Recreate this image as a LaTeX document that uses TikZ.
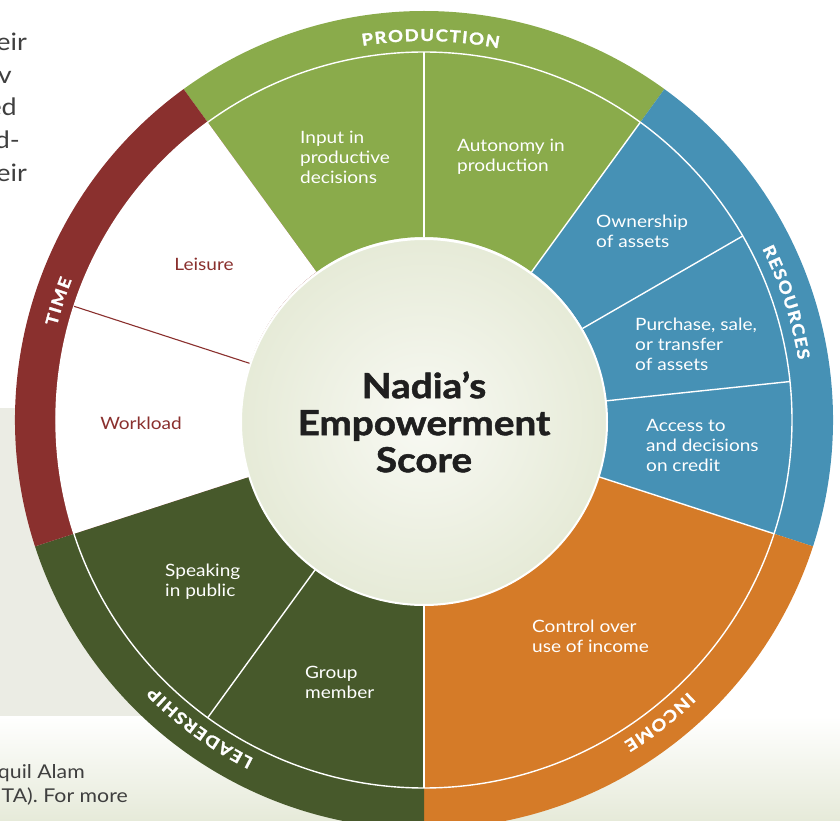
\documentclass[tikz,border=0pt]{standalone}
\usepackage{fontspec}
\setmainfont{Lato}[FakeStretch=1.12]
\newfontfamily\heavyfamily{Lato}[FakeStretch=1.12, FakeBold=1.5]
\usetikzlibrary{decorations.text}

\definecolor{prodgreen}{HTML}{8AAB4B}
\definecolor{resblue}{HTML}{4691B5}
\definecolor{incorange}{HTML}{D57B28}
\definecolor{leadgreen}{HTML}{47592B}
\definecolor{timered}{HTML}{8A302E}
\definecolor{hubin}{HTML}{F8F9F3}
\definecolor{hubout}{HTML}{D4DCBC}
\definecolor{pagegrey}{HTML}{EBECE4}
\definecolor{pagegreen}{HTML}{E6EAD9}
\definecolor{bodytext}{HTML}{3F3F3F}

\pgfdeclareradialshading{hubglow}{\pgfpoint{0bp}{0bp}}{color(0bp)=(hubin); color(50bp)=(hubout)}

\newcommand\lsp{\kern1.4pt}
\newcommand\catfont{\fontsize{16.5}{16.5}\heavyfamily\bfseries}

\begin{document}
\begin{tikzpicture}[
  x=1pt, y=1pt,
  divider/.style={draw=white, line width=1.4pt},
  timeline/.style={draw=timered, line width=1.1pt},
  seclabel/.style={anchor=west, align=left, inner sep=0pt, text=white,
                   font=\fontsize{17}{20}\selectfont},
  timelabel/.style={seclabel, anchor=center, text=timered},
  hub/.style={circle, minimum size=366pt, inner sep=0pt, shading=hubglow,
              draw=white, line width=2pt, align=center, text=black!88,
              font=\fontsize{34.5}{37}\heavyfamily\bfseries},
  catlabel/.style={decorate, decoration={text along path, text color=white,
                   text align=center, text={|\catfont|#1}}},
  para/.style={anchor=base east, inner sep=0pt, text=bodytext}
]
  \def\rHub{183} \def\rMid{368} \def\rOut{409} \def\rTxt{379}
  \useasboundingbox (-424,-401) rectangle (416,420);

  % --- page behind the wheel ---
  \fill[pagegrey] (-424,12) rectangle (-74,-298);
  \shade[top color=white, bottom color=pagegreen] (-424,-296) rectangle (416,-401);
  \node[para, font=\fontsize{24}{33}\selectfont] (p1) at (-397,369) {eir};
  \node[para, font=\fontsize{24}{33}\selectfont] (p2) at (-412,336) {v};
  \node[para, font=\fontsize{24}{33}\selectfont] (p3) at (-407,304) {ed};
  \node[para, font=\fontsize{24}{33}\selectfont] (p4) at (-404,271) {d-};
  \node[para, font=\fontsize{24}{33}\selectfont] (p5) at (-397,238) {eir};
  \node[para, font=\fontsize{19}{24}\selectfont] (q1) at (-339,-358) {quil Alam};
  \node[para, font=\fontsize{19}{24}\selectfont] (q2) at (-296,-382) {TA). For more};

  % --- five domains, 72 degrees each ---
  \foreach \a/\b/\col in {54/126/prodgreen, -18/54/resblue, -90/-18/incorange,
                          198/270/leadgreen, 126/198/timered}{
    \fill[\col] (\a:\rHub) -- (\a:\rOut)
      arc[start angle=\a, end angle=\b, radius=\rOut] -- (\b:\rHub)
      arc[start angle=\b, end angle=\a, radius=\rHub] -- cycle;
  }
  % time indicators sit on white
  \fill[white] (126:\rHub) -- (126:\rMid)
    arc[start angle=126, end angle=198, radius=\rMid] -- (198:\rHub)
    arc[start angle=198, end angle=126, radius=\rHub] -- cycle;

  % --- ring edge and indicator dividers ---
  \draw[divider] (0,0) circle[radius=\rMid];
  \foreach \t in {90,54,30,6,-18,-90,234}
    \draw[divider] (\t:\rHub) -- (\t:\rMid);
  \draw[timeline] (162:\rHub) -- (162:\rMid);

  % --- domain names round the ring ---
  \path[catlabel={P{\lsp}R{\lsp}O{\lsp}D{\lsp}U{\lsp}C{\lsp}T{\lsp}I{\lsp}O{\lsp}N}]
    (134:\rTxt) arc[start angle=134, end angle=44, radius=\rTxt];
  \path[catlabel={R{\lsp}E{\lsp}S{\lsp}O{\lsp}U{\lsp}R{\lsp}C{\lsp}E{\lsp}S}]
    (63:\rTxt) arc[start angle=63, end angle=-27, radius=\rTxt];
  \path[catlabel={I{\lsp}N{\lsp}C{\lsp}O{\lsp}M{\lsp}E}]
    (-7:\rTxt) arc[start angle=-7, end angle=-97, radius=\rTxt];
  \path[catlabel={L{\lsp}E{\lsp}A{\lsp}D{\lsp}E{\lsp}R{\lsp}S{\lsp}H{\lsp}I{\lsp}P}]
    (279:\rTxt) arc[start angle=279, end angle=189, radius=\rTxt];
  \path[catlabel={T{\lsp}I{\lsp}M{\lsp}E}]
    (207:\rTxt) arc[start angle=207, end angle=117, radius=\rTxt];

  % --- indicators ---
  \node[seclabel] (input) at (-124,263) {Input in\\productive\\decisions};
  \node[seclabel] (autonomy) at (33,263) {Autonomy in\\production};
  \node[seclabel] (owner) at (172,189) {Ownership\\of assets};
  \node[seclabel] (purchase) at (211,76) {Purchase, sale,\\or transfer\\of assets};
  \node[seclabel] (credit) at (222,-25) {Access to\\and decisions\\on credit};
  \node[seclabel] (income) at (108,-216) {Control over\\use of income};
  \node[seclabel] (group) at (-119,-262) {Group\\member};
  \node[seclabel] (speak) at (-259,-162) {Speaking\\in public};
  \node[timelabel] (leisure) at (-220,156) {Leisure};
  \node[timelabel] (workload) at (-283,-3) {Workload};

  % --- score in the middle ---
  \node[hub] (score) at (0,-2) {Nadia’s\\Empowerment\\Score};
\end{tikzpicture}
\end{document}
